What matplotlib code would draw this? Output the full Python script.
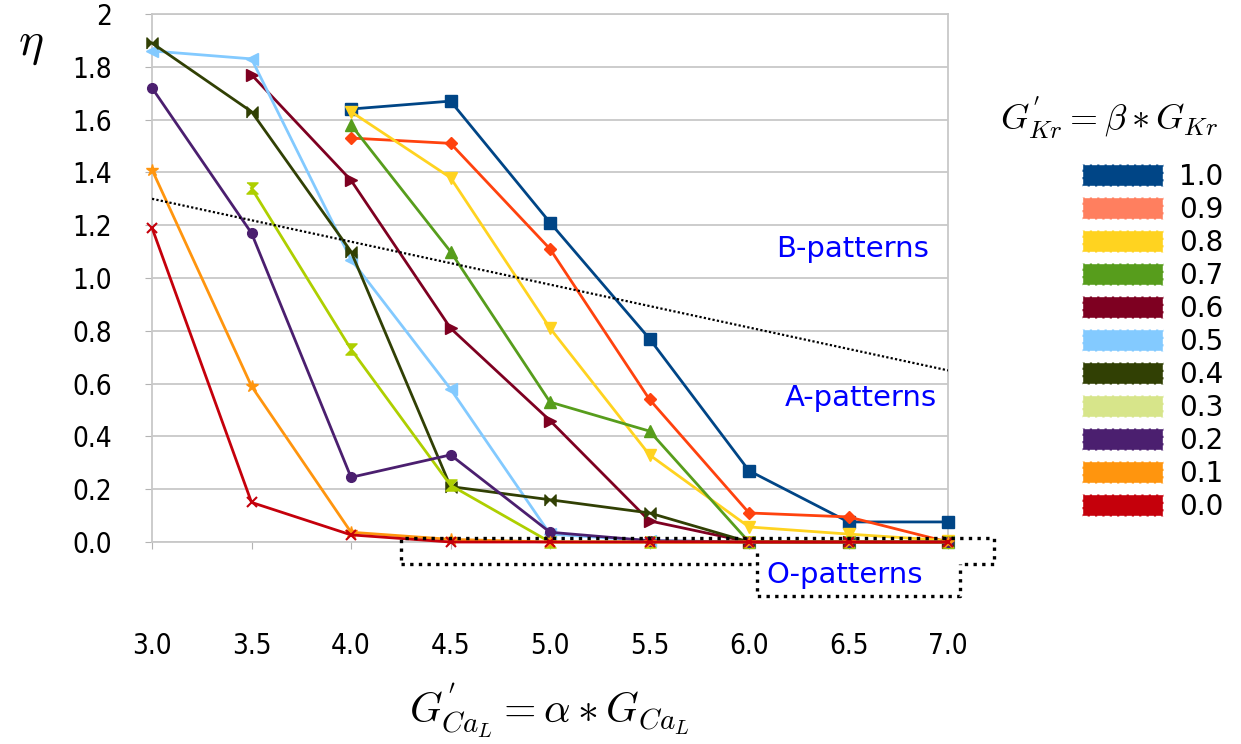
import numpy as np
import matplotlib
matplotlib.use("Agg")
import matplotlib.pyplot as plt
from matplotlib.patches import Patch, Rectangle

plt.rcParams['mathtext.fontset'] = 'cm'

# Data
alpha = [3.0, 3.5, 4.0, 4.5, 5.0, 5.5, 6.0, 6.5, 7.0]
nan = np.nan
beta_labels = ['1.0', '0.9', '0.8', '0.7', '0.6', '0.5', '0.4', '0.3', '0.2', '0.1', '0.0']
eta_10 = [nan, nan, 1.64, 1.67, 1.21, 0.77, 0.27, 0.076, 0.076]
eta_09 = [nan, nan, 1.53, 1.51, 1.11, 0.54, 0.11, 0.095, 0.0]
eta_08 = [nan, nan, 1.63, 1.38, 0.81, 0.33, 0.057, 0.03, 0.005]
eta_07 = [nan, nan, 1.58, 1.10, 0.53, 0.42, 0.0, 0.0, 0.0]
eta_06 = [nan, 1.77, 1.37, 0.81, 0.46, 0.08, 0.0, 0.0, 0.0]
eta_05 = [1.86, 1.83, 1.07, 0.58, 0.03, 0.005, 0.0, 0.0, 0.0]
eta_04 = [1.89, 1.63, 1.10, 0.21, 0.16, 0.11, 0.0, 0.0, 0.0]
eta_03 = [nan, 1.34, 0.73, 0.215, 0.0, 0.0, 0.0, 0.0, 0.0]
eta_02 = [1.72, 1.17, 0.245, 0.33, 0.037, 0.005, 0.0, 0.0, 0.0]
eta_01 = [1.41, 0.59, 0.037, 0.01, 0.0, 0.0, 0.0, 0.0, 0.0]
eta_00 = [1.19, 0.15, 0.027, 0.0, 0.0, 0.0, 0.0, 0.0, 0.0]
series = [eta_10, eta_09, eta_08, eta_07, eta_06, eta_05, eta_04, eta_03, eta_02, eta_01, eta_00]

# dividing line between A and B patterns
split_x = [3.0, 7.0]
split_y = [1.30, 0.65]

line_colors = ['#004586', '#FF420E', '#FFD320', '#579D1C', '#7E0021', '#83CAFF',
               '#314004', '#AECF00', '#4B1F6F', '#FF950E', '#C5000B']
legend_colors = ['#004586', '#FF7F5F', '#FFD320', '#579D1C', '#7E0021', '#83CAFF',
                 '#314004', '#D7E58A', '#4B1F6F', '#FF950E', '#C5000B']
bowtie = [(-1, -1), (-1, 1), (0, 0), (1, 1), (1, -1), (0, 0)]
hourglass = [(-1, 1), (1, 1), (0, 0), (1, -1), (-1, -1), (0, 0)]
markers = ['s', 'D', 'v', '^', '>', '<', bowtie, hourglass, 'o', '*', 'x']
msizes = [8, 6, 8, 8, 8, 8, 8, 8, 7, 9, 7]

fig = plt.figure(figsize=(12.41, 7.44), dpi=100)
ax = fig.add_axes([0.1225, 0.2715, 0.6414, 0.7097])

for y, c, m, ms in zip(series, line_colors, markers, msizes):
    ax.plot(alpha, y, color=c, lw=2.0, marker=m, markersize=ms,
            markerfacecolor=c, markeredgecolor=c, mew=1.5 if m == 'x' else 1.0,
            clip_on=False, zorder=3)

ax.plot(split_x, split_y, color='black', lw=1.6, linestyle=(0, (1, 1)), zorder=4)

# dotted boxes marking the O-pattern region
dot = dict(fill=False, edgecolor='black', lw=2.4, linestyle=(0, (1, 1.6)), clip_on=False, zorder=5)
ax.add_patch(Rectangle((4.25, -0.083), 2.98, 0.098, **dot))
ax.add_patch(Rectangle((6.04, -0.205), 1.02, 0.165, facecolor='white', edgecolor='none',
                       clip_on=False, zorder=5))
ax.plot([6.04, 6.04, 7.06, 7.06], [-0.04, -0.205, -0.205, -0.083], color='black', lw=2.4,
        linestyle=(0, (1, 1.6)), clip_on=False, zorder=6)

ax.text(6.52, 1.11, 'B-patterns', color='#0000FF', fontsize=21, ha='center', va='center')
ax.text(6.56, 0.545, 'A-patterns', color='#0000FF', fontsize=21, ha='center', va='center')
ax.text(6.48, -0.125, 'O-patterns', color='#0000FF', fontsize=21, ha='center', va='center',
        zorder=7)

ax.set_xlim(3.0, 7.0)
ax.set_ylim(0, 2)
ax.set_xticks(alpha)
ax.set_xticklabels(['%.1f' % v for v in alpha], fontfamily='DejaVu Sans',
                   fontstretch='condensed', fontsize=20)
yt = np.round(np.arange(0, 2.01, 0.2), 1)
ax.set_yticks(yt)
ax.set_yticklabels(['2' if v == 2 else '%.1f' % v for v in yt], fontfamily='DejaVu Sans',
                   fontstretch='condensed', fontsize=20)
ax.tick_params(axis='x', direction='out', length=5, color='#b3b3b3', pad=60)
ax.tick_params(axis='y', direction='out', length=5, color='#b3b3b3', pad=24)
ax.grid(axis='y', color='#c8c8c8', lw=1.3)
ax.set_axisbelow(True)
for s in ax.spines.values():
    s.set_color('#c8c8c8')
    s.set_linewidth(1.3)

fig.text(0.025, 0.94, r'$\eta$', fontsize=34, ha='center', va='center')
fig.text(0.443, 0.045, r"$G^{'}_{Ca_L} = \alpha * G_{Ca_L}$", fontsize=30, ha='center', va='center')
fig.text(0.894, 0.842, r"$G^{'}_{Kr} = \beta * G_{Kr}$", fontsize=26, ha='center', va='center')

handles = [Patch(facecolor=c, edgecolor='white', linestyle='--', lw=1.0) for c in legend_colors]
fig.legend(handles, beta_labels, loc='upper left', bbox_to_anchor=(0.8719, 0.781),
           frameon=False, fontsize=20, handlelength=2.9, handleheight=0.86,
           handletextpad=0.58, labelspacing=0.18, borderpad=0, borderaxespad=0)

fig.savefig('out.png', dpi=100)
